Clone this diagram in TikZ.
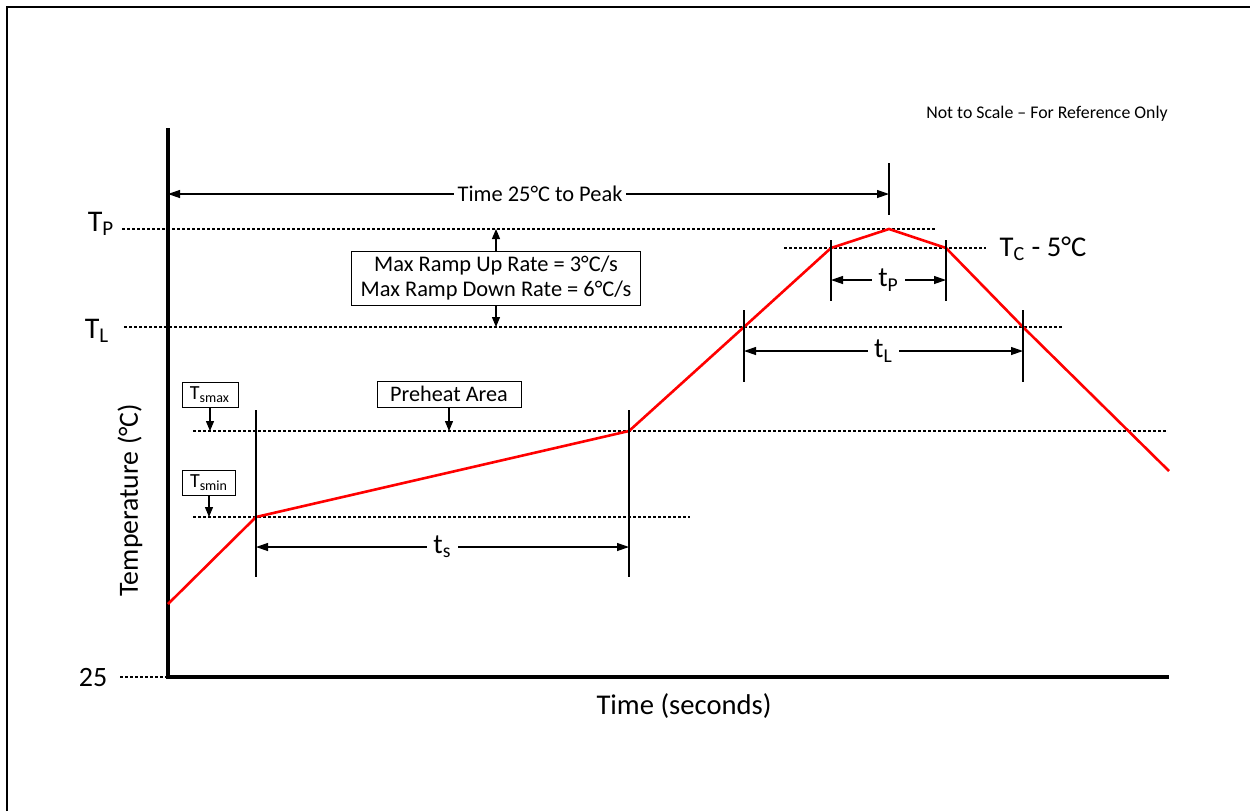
\documentclass[tikz,border=0pt]{standalone}
\usepackage{fontspec}
\setmainfont{Carlito}
\usetikzlibrary{arrows.meta}

\tikzset{
  guide/.style={line width=0.65pt, dash pattern=on 1.5pt off 1pt},
  profile/.style={red, line width=1.3pt, line join=miter},
  tickline/.style={line width=0.6pt},
  dimline/.style={line width=0.6pt, {Triangle[length=6pt,width=4pt]}-{Triangle[length=6pt,width=4pt]}},
  pointer/.style={line width=0.6pt, -{Triangle[length=5pt,width=4pt]}},
  labelbox/.style={draw, line width=0.5pt, inner sep=1.5pt, align=center}
}

\begin{document}
\begin{tikzpicture}[x=0.5pt,y=-0.5pt]
\useasboundingbox (0,0) rectangle (1250,811);

% frame
\draw[line width=1.1pt] (7,811) -- (7,7) -- (1250,7);

% axes
\coordinate (top) at (168,128);
\coordinate (o) at (168,677);
\coordinate (xend) at (1169,677);
\draw[line width=2pt] (top) -- (o) -- (xend);

% temperature levels
\coordinate (tpA) at (122,229);  \coordinate (tpB) at (935,229);
\coordinate (tcA) at (784,248);  \coordinate (tcB) at (986,248);
\coordinate (tlA) at (124,327);  \coordinate (tlB) at (1064,327);
\coordinate (smaxA) at (193,431); \coordinate (smaxB) at (1166,431);
\coordinate (sminA) at (193,517); \coordinate (sminB) at (690,517);
\coordinate (rtA) at (120,677);
\draw[guide] (tpA) -- (tpB);
\draw[guide] (tcA) -- (tcB);
\draw[guide] (tlA) -- (tlB);
\draw[guide] (smaxA) -- (smaxB);
\draw[guide] (sminA) -- (sminB);
\draw[guide] (rtA) -- (o);

% profile
\coordinate (p0) at (168,604);
\coordinate (p1) at (256,517);
\coordinate (p2) at (629,431);
\coordinate (p3) at (744,327);
\coordinate (p4) at (831,248);
\coordinate (p5) at (889,229);
\coordinate (p6) at (946,248);
\coordinate (p7) at (1023,327);
\coordinate (p8) at (1169,471);
\draw[profile] (p0) -- (p1) -- (p2) -- (p3) -- (p4) -- (p5) -- (p6) -- (p7) -- (p8);

% ticks
\draw[tickline] (256,410) -- (256,577);
\draw[tickline] (629,410) -- (629,577);
\draw[tickline] (744,310) -- (744,382);
\draw[tickline] (1023,310) -- (1023,382);
\draw[tickline] (831,240) -- (831,301);
\draw[tickline] (946,240) -- (946,301);
\draw[tickline] (889,163) -- (889,215);

% dimensions
\draw[dimline] (256,547) -- node[fill=white, inner sep=3pt, font=\fontsize{14}{16}\selectfont] (ts) {t\textsubscript{s}} (629,547);
\draw[dimline] (744,351) -- node[fill=white, inner sep=3pt, font=\fontsize{14}{16}\selectfont] (tl) {t\textsubscript{L}} (1023,351);
\draw[dimline] (831,280) -- node[fill=white, inner sep=3pt, font=\fontsize{14}{16}\selectfont] (tpk) {t\textsubscript{P}} (946,280);
\draw[dimline] (168,194) -- node[pos=0.516, fill=white, inner sep=2pt, font=\fontsize{11.2}{13}\selectfont] (peak) {Time 25°C to Peak} (889,194);

% axis labels
\node[font=\fontsize{15}{17}\selectfont] (tplab) at (101,224) {T\textsubscript{P}};
\node[font=\fontsize{15}{17}\selectfont] (tllab) at (97,331) {T\textsubscript{L}};
\node[font=\fontsize{14}{16}\selectfont] (rtlab) at (93,677) {25};
\node[font=\fontsize{14.3}{16}\selectfont] (tclab) at (1043,249) {T\textsubscript{C} - 5°C};
\node[font=\fontsize{8.9}{10}\selectfont] (note) at (1047,114) {Not to Scale – For Reference Only};
\node[rotate=90, font=\fontsize{13.9}{16}\selectfont] (ylab) at (130,500) {Temperature (°C)};
\node[font=\fontsize{14.3}{16}\selectfont] (xlab) at (684,706) {Time (seconds)};

% boxes
\node[labelbox, font=\fontsize{11.2}{12.5}\selectfont, minimum width=144.5pt, minimum height=27pt] (ramp) at (496,278)
  {Max Ramp Up Rate = 3°C/s\\Max Ramp Down Rate = 6°C/s};
\node[labelbox, font=\fontsize{11.1}{12}\selectfont, minimum width=72pt, minimum height=13pt] (preheat) at (449,394) {Preheat Area};
\node[labelbox, font=\fontsize{10}{11}\selectfont, minimum width=28pt, minimum height=12.5pt, inner sep=0.5pt] (smax) at (210,395) {T\textsubscript{smax}};
\node[labelbox, font=\fontsize{10}{11}\selectfont, minimum width=26.5pt, minimum height=12.5pt, inner sep=0.5pt] (smin) at (209,483) {T\textsubscript{smin}};

\draw[pointer] (ramp.north) -- (ramp.north |- tpA);
\draw[pointer] (ramp.south) -- (ramp.south |- tlA);
\draw[pointer] (preheat.south) -- (preheat.south |- smaxA);
\draw[pointer] (smax.south) -- (smax.south |- smaxA);
\draw[pointer] (smin.south) -- (smin.south |- sminA);
\end{tikzpicture}
\end{document}
